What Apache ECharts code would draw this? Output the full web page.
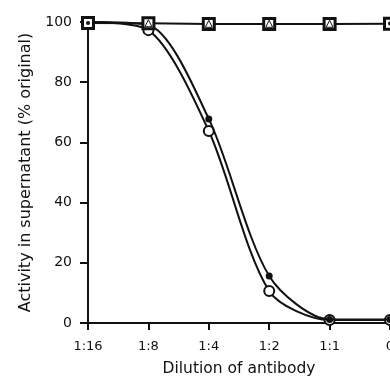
<!DOCTYPE html>
<html>
<head>
<meta charset="utf-8">
<script src="https://cdn.jsdelivr.net/npm/echarts@6/dist/echarts.min.js"></script>
<style>
  html, body { margin: 0; padding: 0; background: #fff; overflow: hidden; }
  #chart { display: block; width: 390px; height: 377px; }
</style>
</head>
<body>
<div id="chart"></div>
<script>
// dilution steps along the x axis
const dilutions = ['1:16', '1:8', '1:4', '1:2', '1:1', '0'];
const yTicks = [0, 20, 40, 60, 80, 100];

// (% of original activity)
const squareVals = [99.7, 99.6, 99.3, 99.3, 99.3, 99.4];
const triangleVals = [null, 99.6, 99.4, 99.4, 99.4, null];
const topDotVals = [99.7, null, null, null, null, 99.5];
const openCircleVals = [100, 97.3, 63.8, 10.6, 1, 1];
const filledCircleVals = [100, 99, 67.8, 15.6, 1.2, 1.2];

const ink = '#111';
const font = 'DejaVu Sans';

const chart = echarts.init(document.getElementById('chart'));

function markerSeries(name, data, symbol, size, fill, border, z) {
	return {
		name,
		type: 'line',
		data,
		symbol,
		symbolSize: size,
		showSymbol: true,
		lineStyle: { width: 0 },
		itemStyle: { color: fill, borderColor: ink, borderWidth: border, opacity: 1 },
		clip: false,
		z
	};
}

function curveSeries(name, data, size, fill, z) {
	return {
		name,
		type: 'line',
		data,
		smooth: 0.28,
		symbol: 'circle',
		symbolSize: size,
		lineStyle: { color: ink, width: 2 },
		itemStyle: { color: fill, borderColor: ink, borderWidth: fill === ink ? 0 : 2 },
		clip: false,
		z
	};
}

chart.setOption({
	animation: false,
	grid: { left: 88, right: 0, top: 22, bottom: 54, outerBoundsMode: 'none', containLabel: false },
	xAxis: {
		type: 'category',
		data: dilutions,
		boundaryGap: false,
		name: 'Dilution of antibody',
		nameLocation: 'middle',
		nameGap: 38,
		nameTextStyle: { fontFamily: font, fontSize: 15.5, color: ink },
		axisLine: { lineStyle: { color: ink, width: 2 } },
		axisTick: { alignWithLabel: true, length: 7, lineStyle: { color: ink, width: 2 } },
		axisLabel: { interval: 0, margin: 17, fontFamily: font, fontSize: 13, color: ink },
		splitLine: { show: false }
	},
	yAxis: {
		type: 'value',
		min: yTicks[0],
		max: yTicks[yTicks.length - 1],
		interval: 20,
		name: 'Activity in supernatant (% original)',
		nameLocation: 'middle',
		nameRotate: 90,
		nameGap: 54,
		nameTextStyle: { fontFamily: font, fontSize: 16, color: ink },
		axisLine: { show: true, lineStyle: { color: ink, width: 2 } },
		axisTick: { show: true, length: 8, lineStyle: { color: ink, width: 2 } },
		axisLabel: { margin: 16, fontFamily: font, fontSize: 14, color: ink },
		splitLine: { show: false }
	},
	series: [
		curveSeries('open circles', openCircleVals, 10, '#fff', 3),
		curveSeries('filled circles', filledCircleVals, 7, ink, 4),
		{
			name: 'squares',
			type: 'line',
			data: squareVals,
			symbol: 'rect',
			symbolSize: 11,
			lineStyle: { color: ink, width: 2 },
			itemStyle: { color: '#fff', borderColor: ink, borderWidth: 3 },
			clip: false,
			z: 5
		},
		markerSeries('triangles', triangleVals, 'triangle', 7, '#fff', 1, 6),
		markerSeries('dots', topDotVals, 'circle', 4, ink, 0, 6)
	]
});
</script>
</body>
</html>
